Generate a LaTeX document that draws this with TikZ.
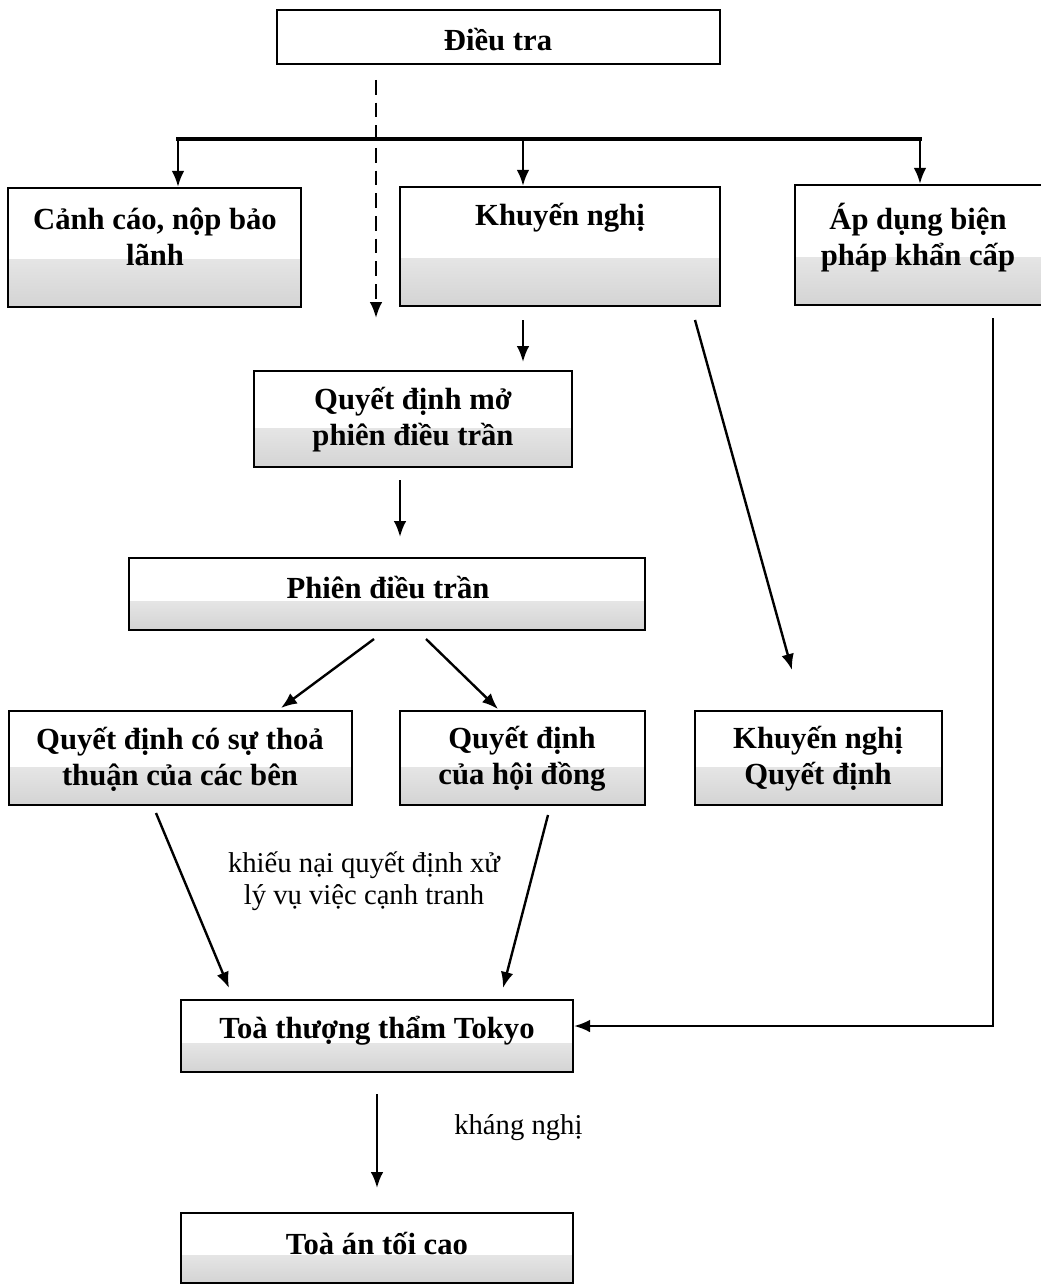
\documentclass[tikz,border=0pt]{standalone}
\usepackage{fontspec}
\setmainfont{Liberation Serif}
\usetikzlibrary{arrows.meta,calc}
\begin{document}
\begin{tikzpicture}[x=0.75pt,y=-0.75pt,
  plainbox/.style={draw=black,line width=1.7pt,inner sep=0pt},
  box/.style={plainbox,
    path picture={\shade[top color=white,bottom color=black!17]
      (path picture bounding box.south west) rectangle
      ($(path picture bounding box.north east)!0.6!(path picture bounding box.south east)$);}},
  bt/.style={font=\fontsize{23}{27}\selectfont\bfseries,align=center,inner sep=0pt},
  nt/.style={font=\fontsize{21.5}{24}\selectfont,align=center,inner sep=0pt},
  arr/.style={line width=1.8pt,-{Latex[length=12pt,width=9.5pt]}}]
\useasboundingbox (0,0) rectangle (1041,1284);
\fill[white] (0,0) rectangle (1041,1284);

% boxes
\node[plainbox,minimum width=332.25pt,minimum height=40.5pt] (dieutra) at (498.5,37) {};
\node[box,minimum width=219.75pt,minimum height=89.25pt] (canhcao) at (154.5,247.5) {};
\node[box,minimum width=240pt,minimum height=89.25pt] (khuyennghi) at (560,246.5) {};
\node[box,minimum width=191.25pt,minimum height=90pt] (apdung) at (922.5,245) {};
\node[box,minimum width=238.5pt,minimum height=72pt] (qdmo) at (413,419) {};
\node[box,minimum width=387pt,minimum height=54pt] (phien) at (387,594) {};
\node[box,minimum width=257.25pt,minimum height=70.5pt] (qdthoa) at (180.5,758) {};
\node[box,minimum width=183.75pt,minimum height=70.5pt] (qdhd) at (522.5,758) {};
\node[box,minimum width=185.25pt,minimum height=70.5pt] (knqd) at (818.5,758) {};
\node[box,minimum width=294pt,minimum height=54pt] (tokyo) at (377,1036) {};
\node[box,minimum width=294pt,minimum height=52.5pt] (toicao) at (377,1248) {};

% texts
\node[bt] (t-dieutra) at (498,40) {Điều tra};
\node[bt] (t-canhcao) at (155,237) {Cảnh cáo, nộp bảo\\lãnh};
\node[bt] (t-khuyennghi) at (560,218) {Khuyến nghị};
\node[bt] (t-apdung) at (918,238) {Áp dụng biện\\pháp khẩn cấp};
\node[bt] (t-qdmo) at (413,420) {Quyết định mở\\phiên điều trần};
\node[bt] (t-phien) at (388,588) {Phiên điều trần};
\node[bt] (t-qdthoa) at (180,759) {Quyết định có sự thoả\\thuận của các bên};
\node[bt] (t-qdhd) at (522,759) {Quyết định\\của hội đồng};
\node[bt] (t-knqd) at (818,759) {Khuyến nghị\\Quyết định};
\node[bt] (t-tokyo) at (377,1031) {Toà thượng thẩm Tokyo};
\node[bt] (t-toicao) at (377,1243) {Toà án tối cao};
\node[nt] (l-khieunai) at (364,881) {khiếu nại quyết định xử\\lý vụ việc cạnh tranh};
\node[nt,anchor=west] (l-khangnghi) at (454,1128) {kháng nghị};

% tree bar
\coordinate (barL) at (178,139);
\coordinate (barM) at (523,139);
\coordinate (barR) at (920,139);
\draw[line width=3pt,line cap=rect] (barL) -- (barR);
\draw[arr] (barL) -- (barL |- canhcao.north);
\draw[arr] (barM) -- (barM |- khuyennghi.north);
\draw[arr] (barR) -- (barR |- apdung.north);

% dashed
\coordinate (dS) at (376,80);
\coordinate (dE) at (376,318);
\draw[arr,dash pattern=on 11pt off 6pt] (dS) -- (dE);

% other connectors
\coordinate (k1) at (523,320); \coordinate (k2) at (523,362);
\draw[arr] (k1) -- (k2);
\coordinate (kl1) at (695,320); \coordinate (kl2) at (792,670);
\draw[arr] (kl1) -- (kl2);
\coordinate (m1) at (400,480); \coordinate (m2) at (400,537);
\draw[arr] (m1) -- (m2);
\coordinate (p1) at (374,639); \coordinate (p2) at (281,708);
\draw[arr] (p1) -- (p2);
\coordinate (p3) at (426,639); \coordinate (p4) at (498,709);
\draw[arr] (p3) -- (p4);
\coordinate (a1) at (993,318); \coordinate (a2) at (993,1026); \coordinate (a3) at (574,1026);
\draw[arr] (a1) -- (a2) -- (a3);
\coordinate (b1) at (156,813); \coordinate (b2) at (229,988);
\draw[arr] (b1) -- (b2);
\coordinate (b3) at (548,815); \coordinate (b4) at (503,988);
\draw[arr] (b3) -- (b4);
\coordinate (c1) at (377,1094); \coordinate (c2) at (377,1188);
\draw[arr] (c1) -- (c2);
\end{tikzpicture}
\end{document}
